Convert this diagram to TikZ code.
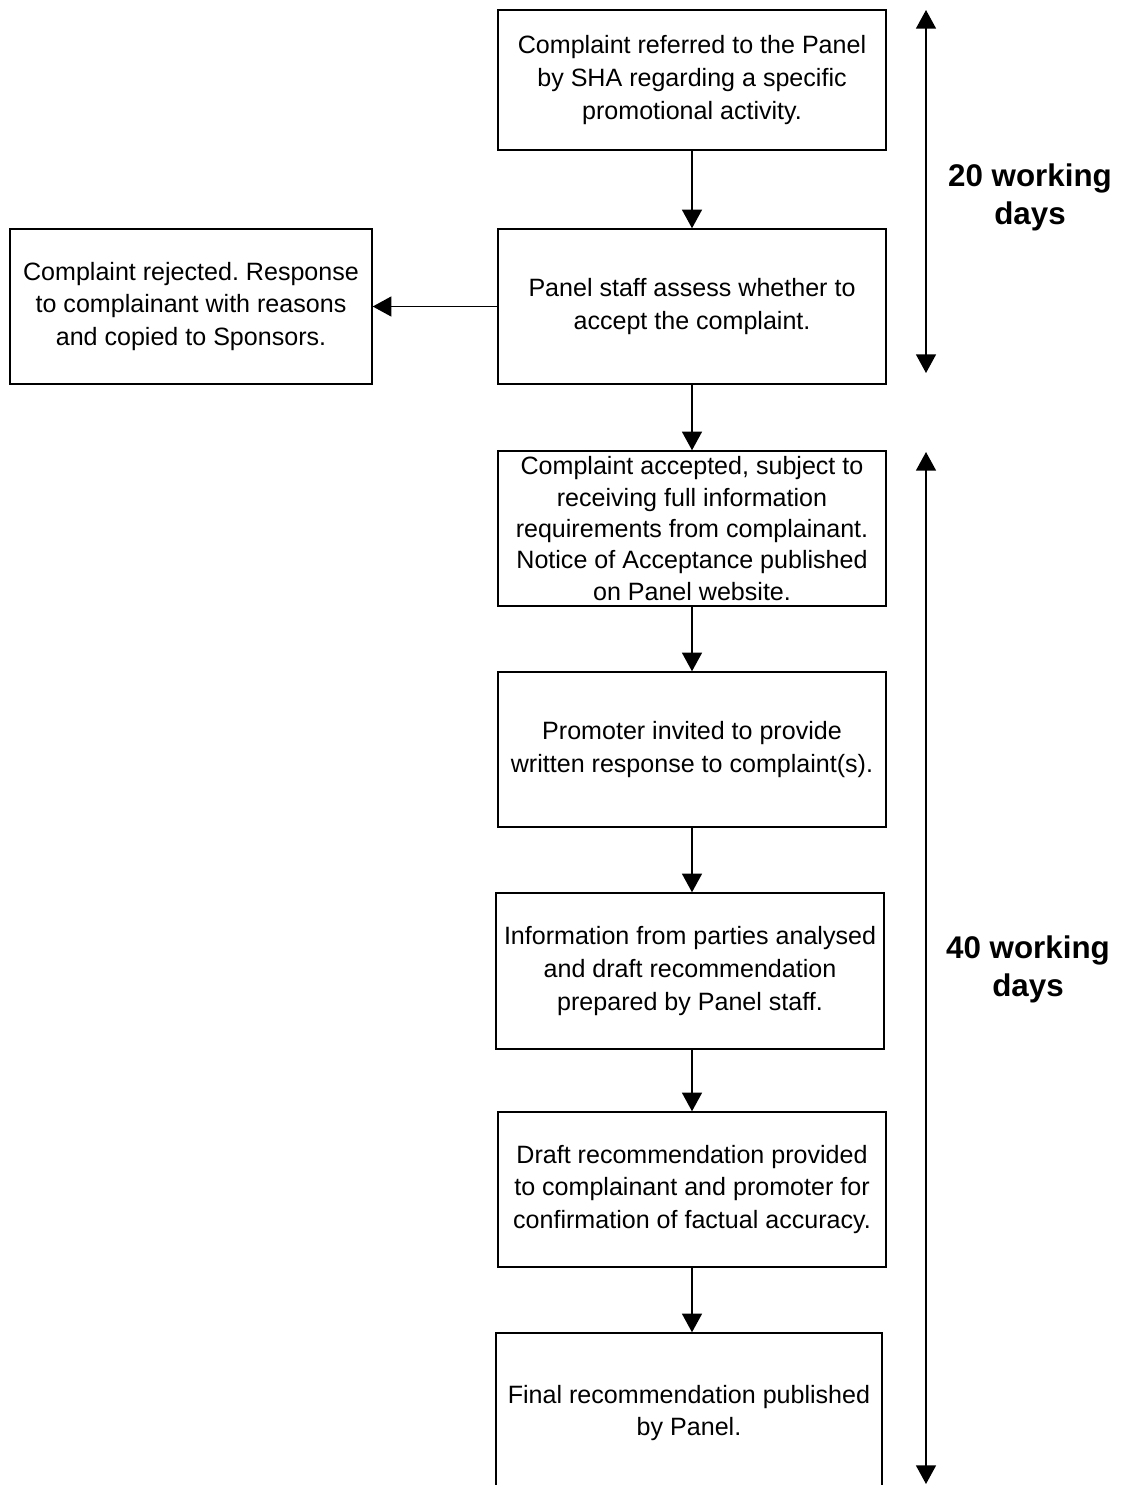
\documentclass[tikz,border=0pt]{standalone}
\usepackage{fontspec}
\setmainfont{Liberation Sans}
\usetikzlibrary{arrows.meta}
\frenchspacing
\begin{document}
\begin{tikzpicture}[x=0.75pt,y=-0.75pt,
  box/.style={draw,line width=1.1pt,align=center,inner sep=0pt,
    font=\fontsize{18.8}{24.5}\selectfont},
  flow/.style={line width=1.1pt,-{Triangle[length=14pt,width=15pt]}},
  span/.style={line width=1.1pt,{Triangle[length=14pt,width=15pt]}-{Triangle[length=14pt,width=15pt]}},
  lbl/.style={align=center,font=\fontsize{23.5}{28.5}\selectfont\bfseries}]
\clip (0,0) rectangle (1121,1485);
\useasboundingbox (0,0) rectangle (1121,1485);
\node[box,minimum width=388*0.75pt,minimum height=140*0.75pt,font=\fontsize{18.8}{25}\selectfont] (b1) at (692,80)
  {Complaint referred to the Panel\\by SHA regarding a specific\\promotional activity.};
\node[box,minimum width=388*0.75pt,minimum height=155*0.75pt] (b2) at (692,306.5)
  {Panel staff assess whether to\\accept the complaint.};
\node[box,minimum width=362*0.75pt,minimum height=155*0.75pt] (rej) at (191,306.5)
  {Complaint rejected. Response\\to complainant with reasons\\and copied to Sponsors.};
\node[box,minimum width=388*0.75pt,minimum height=155*0.75pt,font=\fontsize{18.8}{23.6}\selectfont] (b3) at (692,528.5)
  {Complaint accepted, subject to\\receiving full information\\requirements from complainant.\\Notice of Acceptance published\\on Panel website.};
\node[box,minimum width=388*0.75pt,minimum height=155*0.75pt] (b4) at (692,749.5)
  {Promoter invited to provide\\written response to complaint(s).};
\node[box,minimum width=388*0.75pt,minimum height=156*0.75pt] (b5) at (690,971)
  {Information from parties analysed\\and draft recommendation\\prepared by Panel staff.};
\node[box,minimum width=388*0.75pt,minimum height=155*0.75pt] (b6) at (692,1189.5)
  {Draft recommendation provided\\to complainant and promoter for\\confirmation of factual accuracy.};
\node[box,minimum width=386*0.75pt,minimum height=160*0.75pt] (b7) at (689,1413)
  {Final recommendation published\\by Panel.};
\draw[flow] (b1.south) -- (b1.south |- b2.north);
\draw[flow] (b2.south) -- (b2.south |- b3.north);
\draw[flow] (b3.south) -- (b3.south |- b4.north);
\draw[flow] (b4.south) -- (b4.south |- b5.north);
\draw[flow] (b5.south -| b4.south) -- (b4.south |- b6.north);
\draw[flow] (b6.south) -- (b6.south |- b7.north);
\draw[flow] (b2.west) -- (rej.east);
\coordinate (s1t) at (926,10);
\coordinate (s1b) at (926,373);
\coordinate (s2t) at (926,452);
\coordinate (s2b) at (926,1484);
\draw[span] (s1t) -- (s1b);
\draw[span] (s2t) -- (s2b);
\node[lbl] (l20) at (1030,197) {20 working\\days};
\node[lbl] (l40) at (1028,969) {40 working\\days};
\end{tikzpicture}
\end{document}
